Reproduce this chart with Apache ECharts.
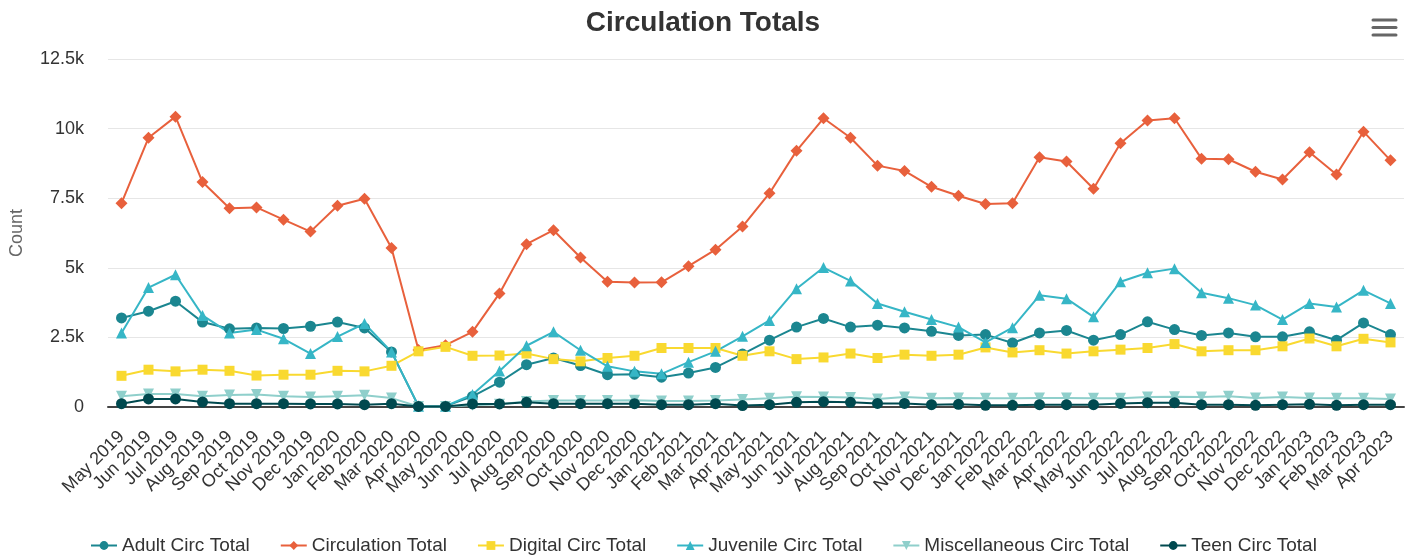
<!DOCTYPE html>
<html>
<head>
<meta charset="utf-8">
<script src="https://cdn.jsdelivr.net/npm/echarts@6/dist/echarts.min.js"></script>
<style>
html,body{margin:0;padding:0;background:#fff;}
#chart{width:1417px;height:558px;}
</style>
</head>
<body>
<div id="chart"></div>
<script>
var categories = ['May 2019','Jun 2019','Jul 2019','Aug 2019','Sep 2019','Oct 2019','Nov 2019','Dec 2019','Jan 2020','Feb 2020','Mar 2020','Apr 2020','May 2020','Jun 2020','Jul 2020','Aug 2020','Sep 2020','Oct 2020','Nov 2020','Dec 2020','Jan 2021','Feb 2021','Mar 2021','Apr 2021','May 2021','Jun 2021','Jul 2021','Aug 2021','Sep 2021','Oct 2021','Nov 2021','Dec 2021','Jan 2022','Feb 2022','Mar 2022','Apr 2022','May 2022','Jun 2022','Jul 2022','Aug 2022','Sep 2022','Oct 2022','Nov 2022','Dec 2022','Jan 2023','Feb 2023','Mar 2023','Apr 2023'];

var adultCirc = [3200,3440,3800,3050,2810,2840,2820,2900,3050,2840,1980,30,30,380,890,1520,1760,1490,1160,1180,1070,1220,1420,1900,2400,2870,3180,2870,2940,2840,2720,2570,2600,2300,2660,2750,2400,2600,3060,2780,2570,2660,2520,2520,2700,2400,3020,2600];
var circulationTotal = [7320,9670,10430,8080,7140,7170,6730,6300,7230,7480,5710,2050,2220,2700,4080,5850,6350,5370,4500,4470,4480,5060,5650,6480,7680,9200,10370,9670,8670,8480,7910,7590,7290,7320,8970,8820,7840,9470,10290,10370,8920,8900,8450,8170,9150,8350,9890,8860];
var digitalCirc = [1120,1340,1280,1340,1300,1130,1160,1160,1300,1280,1480,2000,2160,1840,1850,1920,1720,1640,1760,1840,2120,2120,2120,1840,2000,1720,1780,1920,1760,1880,1840,1880,2140,1960,2040,1920,2000,2060,2120,2260,2000,2040,2040,2180,2460,2180,2450,2320];
var juvenileCirc = [2660,4290,4750,3290,2660,2780,2450,1920,2530,3000,1980,30,30,450,1290,2200,2700,2040,1460,1280,1190,1610,2000,2540,3110,4250,5010,4530,3720,3420,3140,2870,2320,2850,4010,3890,3240,4500,4820,4970,4100,3910,3660,3140,3720,3590,4190,3720];
var miscCirc = [390,470,470,390,430,450,390,360,390,420,320,20,20,60,100,200,230,230,230,240,215,215,230,265,310,370,360,340,290,360,310,325,310,310,325,325,310,310,360,370,360,385,325,360,325,310,310,290];
var teenCirc = [120,290,290,180,120,120,120,110,110,85,120,20,20,110,110,170,120,120,120,120,85,85,120,50,85,170,190,170,130,130,85,95,60,60,85,85,85,130,155,155,85,85,60,85,95,60,85,85];

var yTicks = [0, 2500, 5000, 7500, 10000, 12500];
var yTickLabels = ['0','2.5k','5k','7.5k','10k','12.5k'];

var FONT = "'Liberation Sans', Arial, sans-serif";

function mk(name, data, color, symbol, size, rotate) {
  return {
    name: name, type: 'line', data: data,
    symbol: symbol, symbolSize: size, symbolRotate: rotate || 0,
    showAllSymbol: true,
    lineStyle: {width: 2, color: color},
    itemStyle: {color: color},
    emphasis: {disabled: true},
    animation: false
  };
}

var chart = echarts.init(document.getElementById('chart'), null, {renderer: 'canvas'});
chart.setOption({
  animation: false,
  backgroundColor: '#ffffff',
  title: {
    text: 'Circulation Totals',
    left: 698, top: 4, textAlign: 'center',
    textStyle: {fontFamily: FONT, fontSize: 28, fontWeight: 'bold', color: '#333333'}
  },
  legend: {
    left: 85, top: 531,
    itemWidth: 26, itemHeight: 11, itemGap: 30,
    textStyle: {fontFamily: FONT, fontSize: 19, color: '#333333'},
    data: ['Adult Circ Total','Circulation Total','Digital Circ Total','Juvenile Circ Total','Miscellaneous Circ Total','Teen Circ Total']
  },
  grid: {left: 106, right: 13, top: 59, bottom: 151, containLabel: false},
  xAxis: {
    type: 'category', data: categories, boundaryGap: true,
    axisLine: {show: true, lineStyle: {color: '#444444', width: 2}},
    axisTick: {show: false},
    axisLabel: {interval: 0, rotate: 45, margin: 27, fontFamily: FONT, fontSize: 18, color: '#333333'},
    splitLine: {show: false}
  },
  yAxis: {
    type: 'value', min: 0, max: 12500, interval: 2500,
    name: 'Count', nameLocation: 'middle', nameGap: 82, nameRotate: 90,
    nameTextStyle: {fontFamily: FONT, fontSize: 18, color: '#666666'},
    axisLine: {show: false}, axisTick: {show: false},
    axisLabel: {
      margin: 24, fontFamily: FONT, fontSize: 18, color: '#333333',
      formatter: function (v) { var i = yTicks.indexOf(v); return i >= 0 ? yTickLabels[i] : ''; }
    },
    splitLine: {lineStyle: {color: '#e6e6e6', width: 1}}
  },
  series: [
    mk('Adult Circ Total', adultCirc, '#1b8690', 'circle', 11),
    mk('Circulation Total', circulationTotal, '#e8603c', 'diamond', 12),
    mk('Digital Circ Total', digitalCirc, '#f9d930', 'rect', 10),
    mk('Juvenile Circ Total', juvenileCirc, '#36b6c6', 'triangle', 11),
    mk('Miscellaneous Circ Total', miscCirc, '#8fcfcb', 'triangle', 11, 180),
    mk('Teen Circ Total', teenCirc, '#00494f', 'circle', 11)
  ],
  graphic: [
    {type: 'line', shape: {x1: 1373, y1: 20, x2: 1396, y2: 20}, style: {stroke: '#666666', lineWidth: 3, lineCap: 'round'}},
    {type: 'line', shape: {x1: 1373, y1: 27.5, x2: 1396, y2: 27.5}, style: {stroke: '#666666', lineWidth: 3, lineCap: 'round'}},
    {type: 'line', shape: {x1: 1373, y1: 35, x2: 1396, y2: 35}, style: {stroke: '#666666', lineWidth: 3, lineCap: 'round'}}
  ]
});
</script>
</body>
</html>
